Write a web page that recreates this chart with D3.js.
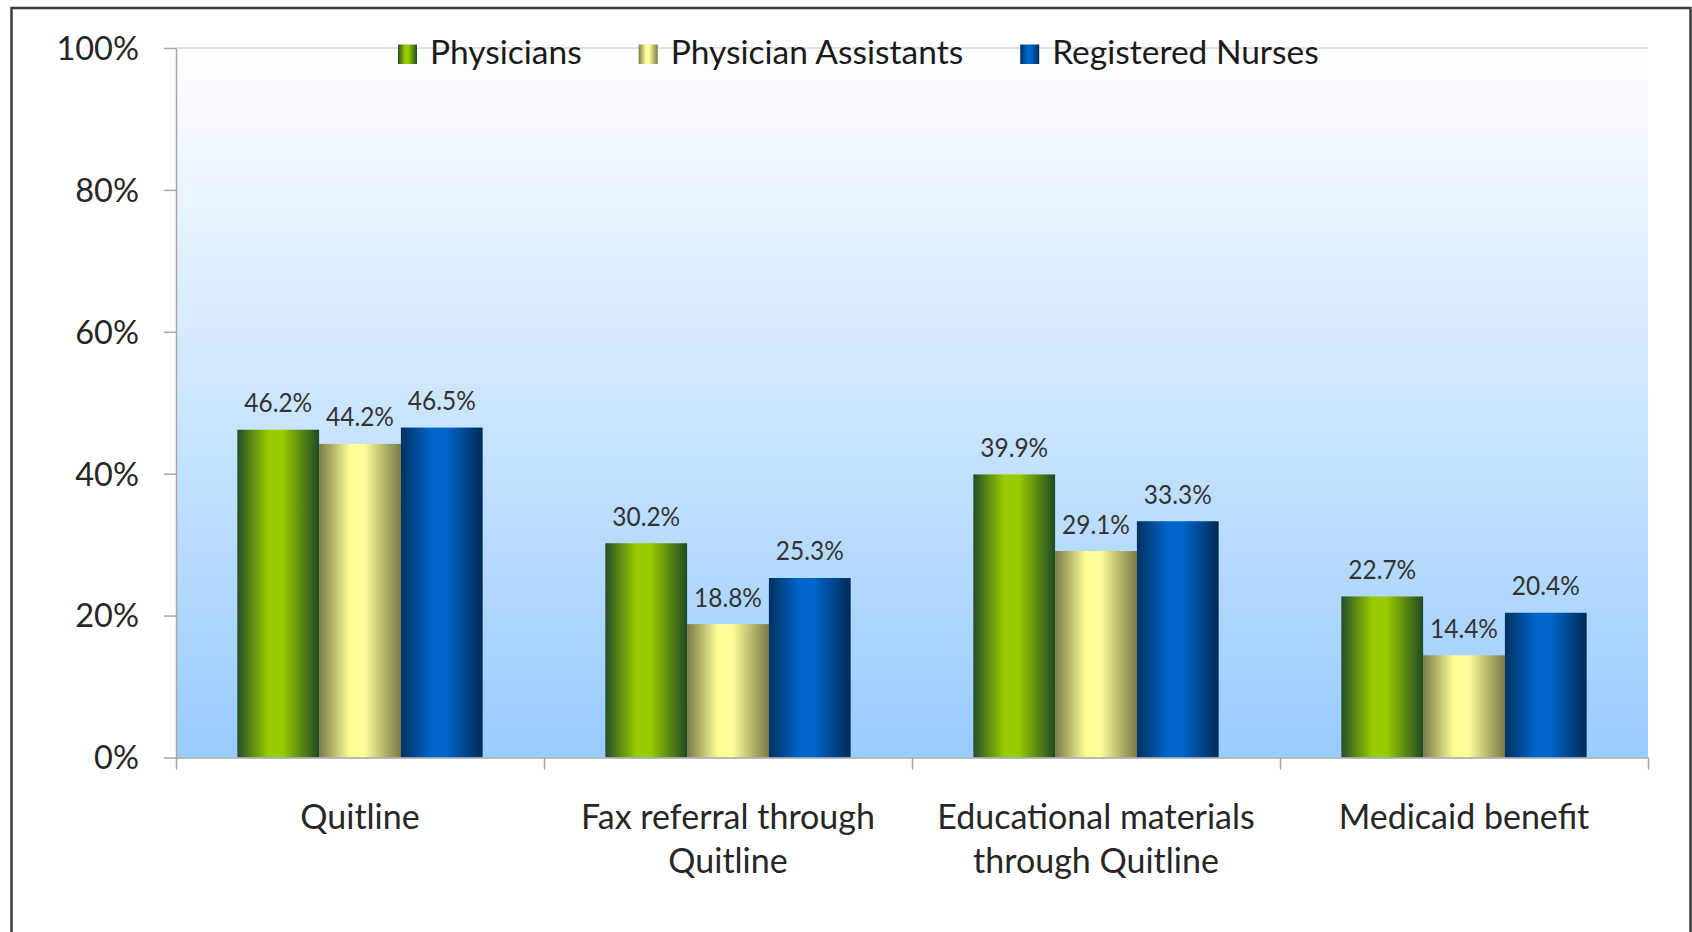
<!DOCTYPE html>
<html><head><meta charset="utf-8">
<script src="https://cdn.jsdelivr.net/npm/d3@7/dist/d3.min.js"></script>
<style>
body{margin:0;background:#fff;overflow:hidden;}
text{font-family:Lato,"Open Sans",sans-serif;}
</style>
</head><body>
<svg id="chart" width="1692" height="932"></svg>
<script>
// ---- data ----
const categories = ["Quitline", "Fax referral through\nQuitline", "Educational materials\nthrough Quitline", "Medicaid benefit"];
const seriesNames = ["Physicians", "Physician Assistants", "Registered Nurses"];
const physicians = [46.2, 30.2, 39.9, 22.7];
const physicianAssistants = [44.2, 18.8, 29.1, 14.4];
const registeredNurses = [46.5, 25.3, 33.3, 20.4];
const yTicks = [0, 20, 40, 60, 80, 100];

const seriesValues = [physicians, physicianAssistants, registeredNurses];
const palettes = [
  {dark0:"#244d26", bright:"#99cc00", dark1:"#1f4a24"},
  {dark0:"#7a7a48", bright:"#ffff99", dark1:"#7a7a48"},
  {dark0:"#00315f", bright:"#0066cc", dark1:"#002b57"}
];

const svg = d3.select("#chart");
const L = 176, R = 1648, T = 48, B = 757.5;

const defs = svg.append("defs");
const bg = defs.append("linearGradient").attr("id","bg").attr("x1",0).attr("y1",0).attr("x2",0).attr("y2",1);
bg.append("stop").attr("offset","0%").attr("stop-color","#ffffff");
bg.append("stop").attr("offset","100%").attr("stop-color","#99ccff");
palettes.forEach((p,i)=>{
  const g = defs.append("linearGradient").attr("id","g"+i).attr("x1",0).attr("y1",0).attr("x2",1).attr("y2",0);
  g.append("stop").attr("offset","0%").attr("stop-color",p.dark0);
  g.append("stop").attr("offset","38%").attr("stop-color",p.bright);
  g.append("stop").attr("offset","55%").attr("stop-color",p.bright);
  g.append("stop").attr("offset","100%").attr("stop-color",p.dark1);
});

// plot background
svg.append("rect").attr("x",L).attr("y",T).attr("width",R-L).attr("height",B-T).attr("fill","url(#bg)");
svg.append("line").attr("x1",L).attr("x2",R).attr("y1",T).attr("y2",T).attr("stroke","#d9d9d9").attr("stroke-width",1.5);

const y = d3.scaleLinear().domain([0,100]).range([B,T]);
const x0 = d3.scaleBand().domain(categories).range([L,R]).paddingInner(1/3).paddingOuter(1/6);
const x1 = d3.scaleBand().domain(seriesNames).range([0,x0.bandwidth()]);
const xEdge = d3.scaleLinear().domain([0,categories.length]).range([L,R]);

// bars
const groups = svg.append("g").selectAll("g").data(categories).join("g")
  .attr("transform", c=>`translate(${x0(c)},0)`);
groups.each(function(c,ci){
  const g = d3.select(this);
  seriesNames.forEach((s,si)=>{
    const v = seriesValues[si][ci];
    g.append("rect").attr("x",x1(s)).attr("y",y(v)).attr("width",x1.bandwidth()).attr("height",B-y(v))
      .attr("fill",`url(#g${si})`);
    g.append("text").attr("transform",`translate(${x1(s)+x1.bandwidth()/2},${y(v)-17.5}) scale(0.94,1)`)
      .attr("text-anchor","middle").attr("font-size",26).attr("fill","#333333").text(v.toFixed(1)+"%");
  });
});

// y axis
const yAxis = svg.append("g").attr("transform",`translate(${L},0)`)
  .call(d3.axisLeft(y).tickValues(yTicks).tickFormat(d=>d+"%").tickSize(12).tickSizeOuter(0).tickPadding(25));
yAxis.selectAll("path,line").attr("stroke","#a6a6a6").attr("stroke-width",1.5);
yAxis.selectAll("text").attr("font-size",32.5).attr("fill","#262626").attr("dy","0.35em")
  .style("font-family","Lato,'Open Sans',sans-serif");

// x axis
const xAxis = svg.append("g").attr("transform",`translate(0,${B})`)
  .call(d3.axisBottom(xEdge).tickValues(d3.range(categories.length+1)).tickFormat("").tickSize(12).tickSizeOuter(0));
xAxis.selectAll("path,line").attr("stroke","#a6a6a6").attr("stroke-width",1.5);

// category labels
const xl = svg.append("g").selectAll("text").data(categories).join("text")
  .attr("x", c=>x0(c)+x0.bandwidth()/2).attr("y",829).attr("text-anchor","middle")
  .attr("font-size",34).attr("fill","#262626");
xl.each(function(c){
  const parts = c.split("\n");
  d3.select(this).selectAll("tspan").data(parts).join("tspan")
    .attr("x", x0(c)+x0.bandwidth()/2).attr("dy",(d,i)=>i===0?0:44).text(d=>d);
});

// legend
const leg = svg.append("g");
let lx = 398;
seriesNames.forEach((s,i)=>{
  leg.append("rect").attr("x",lx).attr("y",44.5).attr("width",19).attr("height",19.5).attr("fill",`url(#g${i})`);
  const t = leg.append("text").attr("x",lx+32).attr("y",64.3).attr("font-size",33.5).attr("fill","#1a1a1a").text(s);
  lx = lx + 32 + t.node().getComputedTextLength() + 57;
});

// outer frame
svg.append("rect").attr("x",11.5).attr("y",8).attr("width",1679).attr("height",960)
  .attr("fill","none").attr("stroke","#3c3c3c").attr("stroke-width",2.5);
</script>
</body></html>
